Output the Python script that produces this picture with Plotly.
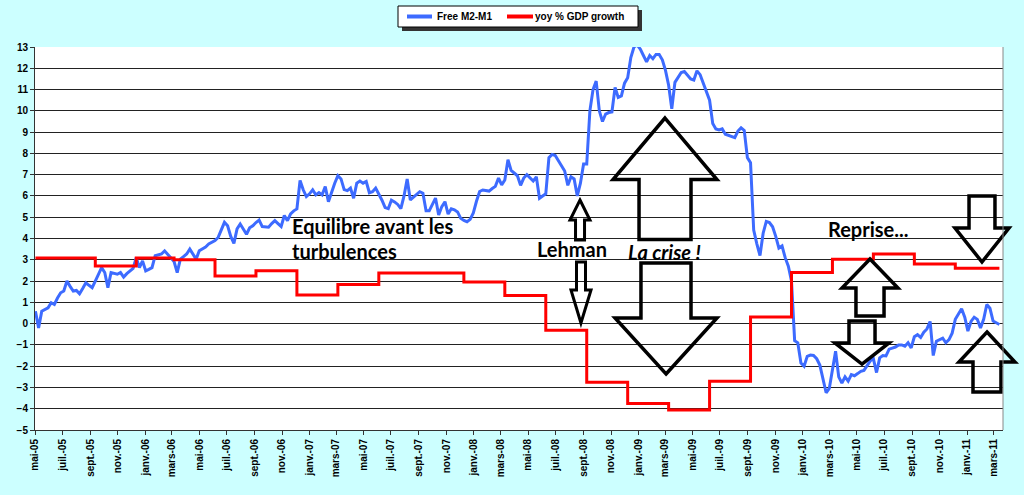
import plotly.graph_objects as go
import pandas as pd

# weekly Free M2-M1 (from 2005-05-02)
free_m2_m1 = [
    0.58, -0.2, 0.58, 0.66, 0.74, 0.98, 0.9, 1.2, 1.45, 1.53,
    2.0, 1.75, 1.53, 1.56, 1.4, 1.65, 1.92, 1.8, 1.69, 2.0,
    2.3, 2.63, 2.4, 1.69, 2.4, 2.35, 2.32, 2.4, 2.19, 2.35,
    2.48, 2.6, 3.1, 2.63, 2.95, 2.48, 2.55, 2.63, 3.19, 3.22,
    3.27, 3.42, 3.25, 3.1, 2.92, 2.4, 3.03, 3.15, 3.27, 3.5,
    3.25, 3.03, 3.42, 3.5, 3.6, 3.74, 3.82, 3.9, 4.05, 4.45,
    4.76, 4.6, 4.1, 3.77, 4.45, 4.68, 4.45, 4.2, 4.5, 4.6,
    4.75, 4.87, 4.56, 4.55, 4.53, 4.7, 4.84, 4.7, 4.56, 5.08,
    4.84, 5.16, 5.3, 5.39, 6.73, 6.29, 5.97, 6.1, 6.29, 6.05,
    6.16, 6.05, 6.44, 5.73, 6.2, 6.6, 6.95, 6.8, 6.3, 6.25,
    6.37, 5.89, 6.6, 6.7, 6.6, 6.68, 6.15, 6.2, 6.37, 6.1,
    5.8, 5.45, 5.4, 5.8, 5.72, 5.6, 5.4, 6.0, 6.8, 5.81,
    5.95, 6.1, 6.2, 6.13, 5.3, 5.3, 5.6, 5.9, 5.1, 5.5,
    5.73, 5.15, 5.4, 5.35, 5.25, 4.95, 4.85, 4.79, 4.9, 5.2,
    5.75, 6.21, 6.28, 6.25, 6.23, 6.35, 6.45, 6.84, 6.52, 6.75,
    7.7, 7.2, 7.05, 6.95, 6.5, 6.84, 7.0, 6.85, 6.7, 6.9,
    5.89, 6.0, 6.1, 7.8, 7.95, 7.9, 7.65, 7.4, 7.17, 6.5,
    6.9, 6.8, 6.0, 6.6, 7.5, 7.5, 10.0, 11.0, 11.4, 10.0,
    9.5, 9.85, 9.92, 9.95, 11.1, 10.63, 10.7, 11.3, 11.55, 12.5,
    13.0, 13.1, 12.9, 12.6, 12.3, 12.6, 12.45, 12.65, 12.65, 12.4,
    11.9, 11.2, 10.1, 11.34, 11.6, 11.8, 11.85, 11.68, 11.5, 11.45,
    11.88, 11.7, 11.3, 10.98, 10.5, 9.4, 9.15, 9.1, 9.15, 8.9,
    8.85, 8.8, 8.74, 9.05, 9.2, 9.08, 7.8, 7.56, 4.4, 3.75,
    3.2, 4.25, 4.8, 4.75, 4.55, 4.1, 3.55, 3.65, 3.1, 2.7,
    2.0, -0.8, -0.9, -1.85, -2.0, -1.54, -1.48, -1.5, -1.65, -1.95,
    -2.65, -3.25, -3.05, -2.24, -1.3, -2.5, -2.8, -2.5, -2.7, -2.4,
    -2.45, -2.35, -2.24, -2.2, -2.0, -1.75, -1.65, -2.3, -1.61, -1.5,
    -1.52, -1.2, -1.15, -1.1, -1.0, -1.0, -1.06, -0.9, -1.14, -0.62,
    -0.52, -0.65, -0.4, -0.25, 0.1, -1.5, -0.83, -0.75, -0.68, -0.9,
    -0.75, -0.45, 0.2, 0.45, 0.7, 0.3, -0.35, 0.1, 0.3, 0.2,
    -0.2, 0.2, 0.9, 0.72, 0.12, 0.04, -0.04,
]
weeks = pd.date_range("2005-05-02", periods=len(free_m2_m1), freq="7D")

# yoy GDP growth, step changes
gdp_dates = ["2005-05-02", "2005-09-12", "2005-12-12", "2006-03-06", "2006-06-05",
             "2006-09-04", "2006-12-04", "2007-03-05", "2007-06-04", "2007-12-10",
             "2008-03-10", "2008-06-09", "2008-09-08", "2008-12-08", "2009-03-09",
             "2009-06-08", "2009-09-07", "2009-12-07", "2010-03-08", "2010-06-07",
             "2010-09-06", "2010-12-06", "2011-03-14"]
gdp_growth = [3.08, 2.71, 3.08, 3.0, 2.24, 2.48, 1.35, 1.84, 2.38, 1.95,
              1.32, -0.31, -2.76, -3.75, -4.06, -2.71, 0.31, 2.4, 3.03, 3.27,
              2.8, 2.6, 2.6]

tick_dates = pd.date_range("2005-05-01", "2011-03-01", freq="2MS")
tick_labels = ["mai-05", "juil.-05", "sept.-05", "nov.-05", "janv.-06", "mars-06",
               "mai-06", "juil.-06", "sept.-06", "nov.-06", "janv.-07", "mars-07",
               "mai-07", "juil.-07", "sept.-07", "nov.-07", "janv.-08", "mars-08",
               "mai-08", "juil.-08", "sept.-08", "nov.-08", "janv.-09", "mars-09",
               "mai-09", "juil.-09", "sept.-09", "nov.-09", "janv.-10", "mars-10",
               "mai-10", "juil.-10", "sept.-10", "nov.-10", "janv.-11", "mars-11"]

BLUE = "#3D6BFF"
RED = "#FF0000"

# plot area in pixels
L, R, T, B = 35, 1003, 47, 430


def pp(x, y):
    return (x - L) / (R - L), (B - y) / (B - T)


def block_arrow(cx, tip, base, hw, sw, tail):
    pts = [(cx, tip), (cx + hw, base), (cx + sw, base), (cx + sw, tail),
           (cx - sw, tail), (cx - sw, base), (cx - hw, base)]
    s = "M " + " L ".join("%.4f,%.4f" % pp(x, y) for x, y in pts) + " Z"
    return s


def rect(x0, y0, x1, y1, **kw):
    a, b = pp(x0, y0)
    c, d = pp(x1, y1)
    fig.add_shape(type="rect", xref="paper", yref="paper", x0=a, y0=b, x1=c, y1=d, **kw)


fig = go.Figure()
fig.add_trace(go.Scatter(x=weeks, y=free_m2_m1, mode="lines", name="Free M2-M1",
                         line=dict(color=BLUE, width=3)))
fig.add_trace(go.Scatter(x=pd.to_datetime(gdp_dates), y=gdp_growth, mode="lines",
                         name="yoy % GDP growth", line=dict(color=RED, width=3, shape="hv")))

# arrows: (cx, tip, head base, head half width, shaft half width, tail, line width)
arrows = [
    (580, 200, 220, 10, 4.5, 240, 3),
    (581, 323, 290, 10, 4.5, 262, 3),
    (665, 118, 179.5, 52, 26, 239.5, 3.5),
    (666, 374, 318, 51, 25, 263, 3.5),
    (870, 259, 288, 28, 14, 316, 3.5),
    (862, 364, 343, 27, 13, 321, 3.5),
    (982, 262, 228, 27, 13, 196, 3.5),
    (987, 332, 362, 28, 14, 392, 3.5),
]
for cx, tip, base, hw, sw, tail, lw in arrows:
    fig.add_shape(type="path", xref="paper", yref="paper",
                  path=block_arrow(cx, tip, base, hw, sw, tail),
                  line=dict(color="black", width=lw), fillcolor="rgba(0,0,0,0)",
                  layer="above")

# legend box drawn by hand (with shadow)
rect(402, 10, 642, 31, fillcolor="#333333", line=dict(width=0), layer="above")
rect(398, 6, 638, 27, fillcolor="white", line=dict(color="black", width=1), layer="above")
for (lx0, lx1, col) in [(407, 432, BLUE), (507, 533, RED)]:
    a, b = pp(lx0, 16.5)
    c, _ = pp(lx1, 16.5)
    fig.add_shape(type="line", xref="paper", yref="paper", x0=a, x1=c, y0=b, y1=b,
                  line=dict(color=col, width=4), layer="above")
leg_font = dict(family="Liberation Sans", size=10, color="black", weight="bold")
for txt, x in [("Free M2-M1", 435), ("yoy % GDP growth", 533)]:
    a, b = pp(x, 16.5)
    fig.add_annotation(text=txt, x=a, y=b, xref="paper", yref="paper", xanchor="left",
                       yanchor="middle", showarrow=False, font=leg_font)

lab_font = dict(family="Lato", size=20, color="black", weight="bold")
texts = [
    ("Equilibre avant les", 290, 226, False),
    ("turbulences", 290, 251, False),
    ("Lehman", 535, 249, False),
    ("La crise !", 626, 252, True),
    ("Reprise...", 826, 229, False),
]
for txt, x, y, it in texts:
    ax, ay = pp(x, y)
    f = dict(lab_font)
    if it:
        f["style"] = "italic"
    fig.add_annotation(text=txt, x=ax, y=ay, xref="paper", yref="paper",
                       xanchor="left", yanchor="middle", showarrow=False, font=f)

fig.update_layout(
    width=1024, height=495,
    margin=dict(l=L, r=1024 - R, t=T, b=495 - B),
    paper_bgcolor="#CCFFFF", plot_bgcolor="white",
    showlegend=False,
    xaxis=dict(range=["2005-05-01", "2011-03-22"], tickvals=tick_dates, ticktext=tick_labels,
               tickangle=-90, ticks="outside", ticklen=4, tickcolor="#333",
               showgrid=False, showline=True, linecolor="#333", mirror=False,
               tickfont=dict(family="Liberation Sans", size=10, color="black", weight="bold")),
    yaxis=dict(range=[-5, 13], dtick=1, ticks="outside", ticklen=4, tickcolor="#333",
               showgrid=True, gridcolor="#222", gridwidth=1, zeroline=False,
               showline=True, linecolor="#333",
               tickfont=dict(family="Liberation Sans", size=10, color="black", weight="bold")),
)
# right border of plot area
fig.add_shape(type="line", xref="paper", yref="paper", x0=1, x1=1, y0=0, y1=1,
              line=dict(color="#888", width=1))

fig.write_html("out.html", config={"displayModeBar": False},
               post_script="document.body.style.margin='0';")
